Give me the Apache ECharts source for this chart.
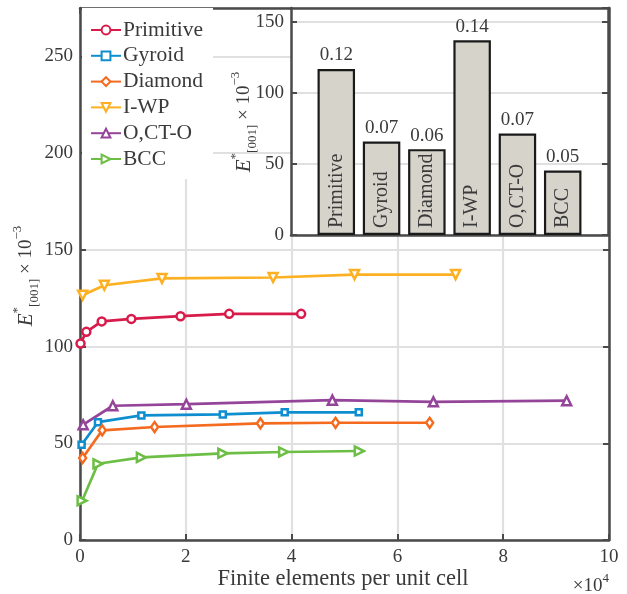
<!DOCTYPE html>
<html>
<head>
<meta charset="utf-8">
<script src="https://cdn.jsdelivr.net/npm/echarts@6/dist/echarts.min.js"></script>
<style>html,body{margin:0;padding:0;background:#fff}#c{width:627px;height:594px}</style>
</head>
<body>
<div id="c"></div>
<script>
// ---- data (x in units of 1e4 elements, y in units of 1e-3) ----
const seriesNames = ['Primitive', 'Gyroid', 'Diamond', 'I-WP', 'O,CT-O', 'BCC'];
const primitiveX = [0.01, 0.12, 0.41, 0.97, 1.90, 2.82, 4.18];
const primitiveY = [101.6, 107.6, 113.0, 114.3, 115.7, 116.9, 116.9];
const gyroidX = [0.03, 0.34, 1.16, 2.70, 3.87, 5.27];
const gyroidY = [49.2, 60.9, 64.4, 64.9, 66.0, 66.0];
const diamondX = [0.05, 0.42, 1.41, 3.41, 4.83, 6.61];
const diamondY = [42.4, 56.7, 58.4, 60.3, 60.6, 60.6];
const iwpX = [0.05, 0.46, 1.55, 3.65, 5.19, 7.10];
const iwpY = [126.5, 131.7, 135.2, 135.7, 137.2, 137.2];
const octoX = [0.06, 0.62, 2.01, 4.77, 6.68, 9.20];
const octoY = [59.6, 69.4, 70.2, 72.3, 71.4, 72.0];
const bccX = [0.04, 0.34, 1.16, 2.70, 3.85, 5.28];
const bccY = [20.3, 39.4, 42.7, 44.8, 45.5, 46.0];
const insetCategories = ['Primitive', 'Gyroid', 'Diamond', 'I-WP', 'O,CT-O', 'BCC'];
const insetValues = [117.0, 65.9, 60.5, 137.2, 71.5, 45.4];

const colors = ['#D81B4A', '#0E8ECF', '#F46A1F', '#FDB022', '#94459A', '#6CBE45'];
const symbols = ['circle', 'rect', 'diamond', 'triangle', 'triangle', 'triangle'];
const symRot = [0, 0, 0, 180, 0, -90];
const symSize = [8, 6, [7, 10], 9, 9, 9];
const xs = [primitiveX, gyroidX, diamondX, iwpX, octoX, bccX];
const ys = [primitiveY, gyroidY, diamondY, iwpY, octoY, bccY];

const FF = 'Liberation Serif';
const axisC = '#4a4a4a';
const textC = '#3a3a3a';
const gridC = '#e0e0e0';

function zip(a, b) { return a.map((v, i) => [v, b[i]]); }

const lineSeries = seriesNames.map((n, i) => ({
  name: n, type: 'line', xAxisIndex: 0, yAxisIndex: 0,
  data: zip(xs[i], ys[i]),
  symbol: symbols[i], symbolSize: symSize[i], symbolRotate: symRot[i],
  showAllSymbol: true,
  lineStyle: { color: colors[i], width: 2.7 },
  itemStyle: { color: '#fff', borderColor: colors[i], borderWidth: 2.5 },
  z: 3
}));

const barData = insetValues.map((v, i) => [i + 1, v]);

const yLabelRich = {
  e: { fontFamily: FF, fontStyle: 'italic', fontSize: 21, lineHeight: 30, verticalAlign: 'middle', fill: textC },
  s: { fontFamily: FF, fontSize: 13, lineHeight: 30, verticalAlign: 'top', fill: textC },
  b: { fontFamily: FF, fontSize: 13, lineHeight: 30, verticalAlign: 'bottom', fill: textC },
  m: { fontFamily: FF, fontSize: 19, lineHeight: 30, verticalAlign: 'middle', fill: textC }
};

const option = {
  animation: false,
  backgroundColor: '#fff',
  grid: [
    { left: 80, right: 18, top: 8, bottom: 54 },
    { left: 291, right: 19, top: 8, bottom: 359, show: true, backgroundColor: '#fff', borderWidth: 0, z: 5 }
  ],
  legend: {
    data: seriesNames, orient: 'vertical', left: 82, top: 8,
    padding: [11, 10, 9, 8], itemGap: 3.8, itemWidth: 30, itemHeight: 11,
    backgroundColor: '#fff', z: 6,
    textStyle: { fontFamily: FF, fontSize: 21.5, color: textC, lineHeight: 20, padding: [0, 0, 0, -3] }
  },
  xAxis: [
    { gridIndex: 0, type: 'value', min: 0, max: 10, interval: 2,
      axisLine: { show: true, onZero: false, lineStyle: { color: axisC, width: 2.5 } },
      axisTick: { inside: true, length: 6, lineStyle: { color: axisC, width: 2 } },
      axisLabel: { fontFamily: FF, fontSize: 19, color: textC, margin: 8 },
      splitLine: { show: true, lineStyle: { color: gridC, width: 2.2 } } },
    { gridIndex: 0, type: 'value', position: 'top', min: 0, max: 10, interval: 2,
      axisLine: { show: true, onZero: false, lineStyle: { color: axisC, width: 2.5 } },
      axisTick: { inside: true, length: 6, lineStyle: { color: axisC, width: 2 } },
      axisLabel: { show: false }, splitLine: { show: false } },
    { gridIndex: 1, type: 'value', min: 0, max: 7, z: 6,
      axisLine: { show: true, onZero: false, lineStyle: { color: axisC, width: 2.5 } },
      axisTick: { show: false }, axisLabel: { show: false }, splitLine: { show: false } },
    { gridIndex: 1, type: 'value', position: 'top', min: 0, max: 7, z: 6,
      axisLine: { show: true, onZero: false, lineStyle: { color: axisC, width: 2.5 } },
      axisTick: { show: false }, axisLabel: { show: false }, splitLine: { show: false } }
  ],
  yAxis: [
    { gridIndex: 0, type: 'value', min: 0, max: 275, interval: 50,
      axisLine: { show: true, onZero: false, lineStyle: { color: axisC, width: 2.5 } },
      axisTick: { inside: true, length: 6, lineStyle: { color: axisC, width: 2 } },
      axisLabel: { fontFamily: FF, fontSize: 19, color: textC, margin: 7, showMaxLabel: false },
      splitLine: { show: true, lineStyle: { color: gridC, width: 2.2 } } },
    { gridIndex: 0, type: 'value', position: 'right', min: 0, max: 275, interval: 50,
      axisLine: { show: true, onZero: false, lineStyle: { color: axisC, width: 2.5 } },
      axisTick: { inside: true, length: 6, lineStyle: { color: axisC, width: 2 } },
      axisLabel: { show: false }, splitLine: { show: false } },
    { gridIndex: 1, type: 'value', min: 0, max: 160, interval: 50, z: 6,
      axisLine: { show: true, onZero: false, lineStyle: { color: axisC, width: 2.5 } },
      axisTick: { inside: true, length: 6, lineStyle: { color: axisC, width: 2 } },
      axisLabel: { fontFamily: FF, fontSize: 19, color: textC, margin: 7, showMaxLabel: false },
      splitLine: { show: true, lineStyle: { color: gridC, width: 2.2 } } },
    { gridIndex: 1, type: 'value', position: 'right', min: 0, max: 160, interval: 50, z: 6,
      axisLine: { show: true, onZero: false, lineStyle: { color: axisC, width: 2.5 } },
      axisTick: { inside: true, length: 6, lineStyle: { color: axisC, width: 2 } },
      axisLabel: { show: false }, splitLine: { show: false } }
  ],
  series: lineSeries.concat([
    { name: 'insetBars', type: 'bar', xAxisIndex: 2, yAxisIndex: 2, data: barData,
      barWidth: 37.5, barGap: '-100%', z: 7,
      itemStyle: { color: '#d6d3cb', borderColor: '#1a1a1a', borderWidth: 2.2 },
      label: { show: true, position: 'top', distance: 4, fontFamily: FF, fontSize: 19, color: textC,
        formatter: p => (p.value[1] / 1000).toFixed(2) } },
    { name: 'insetNames', type: 'bar', xAxisIndex: 2, yAxisIndex: 2, data: barData,
      barWidth: 37.5, barGap: '-100%', z: 8,
      itemStyle: { color: 'rgba(0,0,0,0)' },
      label: { show: true, position: 'insideBottom', rotate: 90, align: 'left', verticalAlign: 'middle',
        distance: 7, fontFamily: FF, fontSize: 20, color: textC,
        formatter: p => insetCategories[p.dataIndex] } }
  ]),
  graphic: [
    { type: 'text', x: 26, y: 276, rotation: Math.PI / 2, z: 10,
      style: { text: '{e|E}{s|*}{b|[001]}{m| × 10}{s|−3}', align: 'center', verticalAlign: 'middle', fill: textC,
        rich: yLabelRich } },
    { type: 'text', x: 244, y: 122, rotation: Math.PI / 2, z: 10,
      style: { text: '{e|E}{s|*}{b|[001]}{m| × 10}{s|−3}', align: 'center', verticalAlign: 'middle', fill: textC,
        rich: yLabelRich } },
    { type: 'text', x: 343, y: 579, z: 10,
      style: { text: 'Finite elements per unit cell', font: '22.5px "Liberation Serif"', fill: textC,
        align: 'center', verticalAlign: 'middle' } },
    { type: 'text', x: 609, y: 584, z: 10,
      style: { text: '{m|×10}{s|4}', align: 'right', verticalAlign: 'middle', fill: textC,
        rich: {
          m: { fontFamily: FF, fontSize: 19, lineHeight: 24, verticalAlign: 'bottom', fill: textC },
          s: { fontFamily: FF, fontSize: 13, lineHeight: 24, verticalAlign: 'top', fill: textC }
        } } }
  ]
};

const chart = echarts.init(document.getElementById('c'), null, { renderer: 'canvas' });
chart.setOption(option);
</script>
</body>
</html>
